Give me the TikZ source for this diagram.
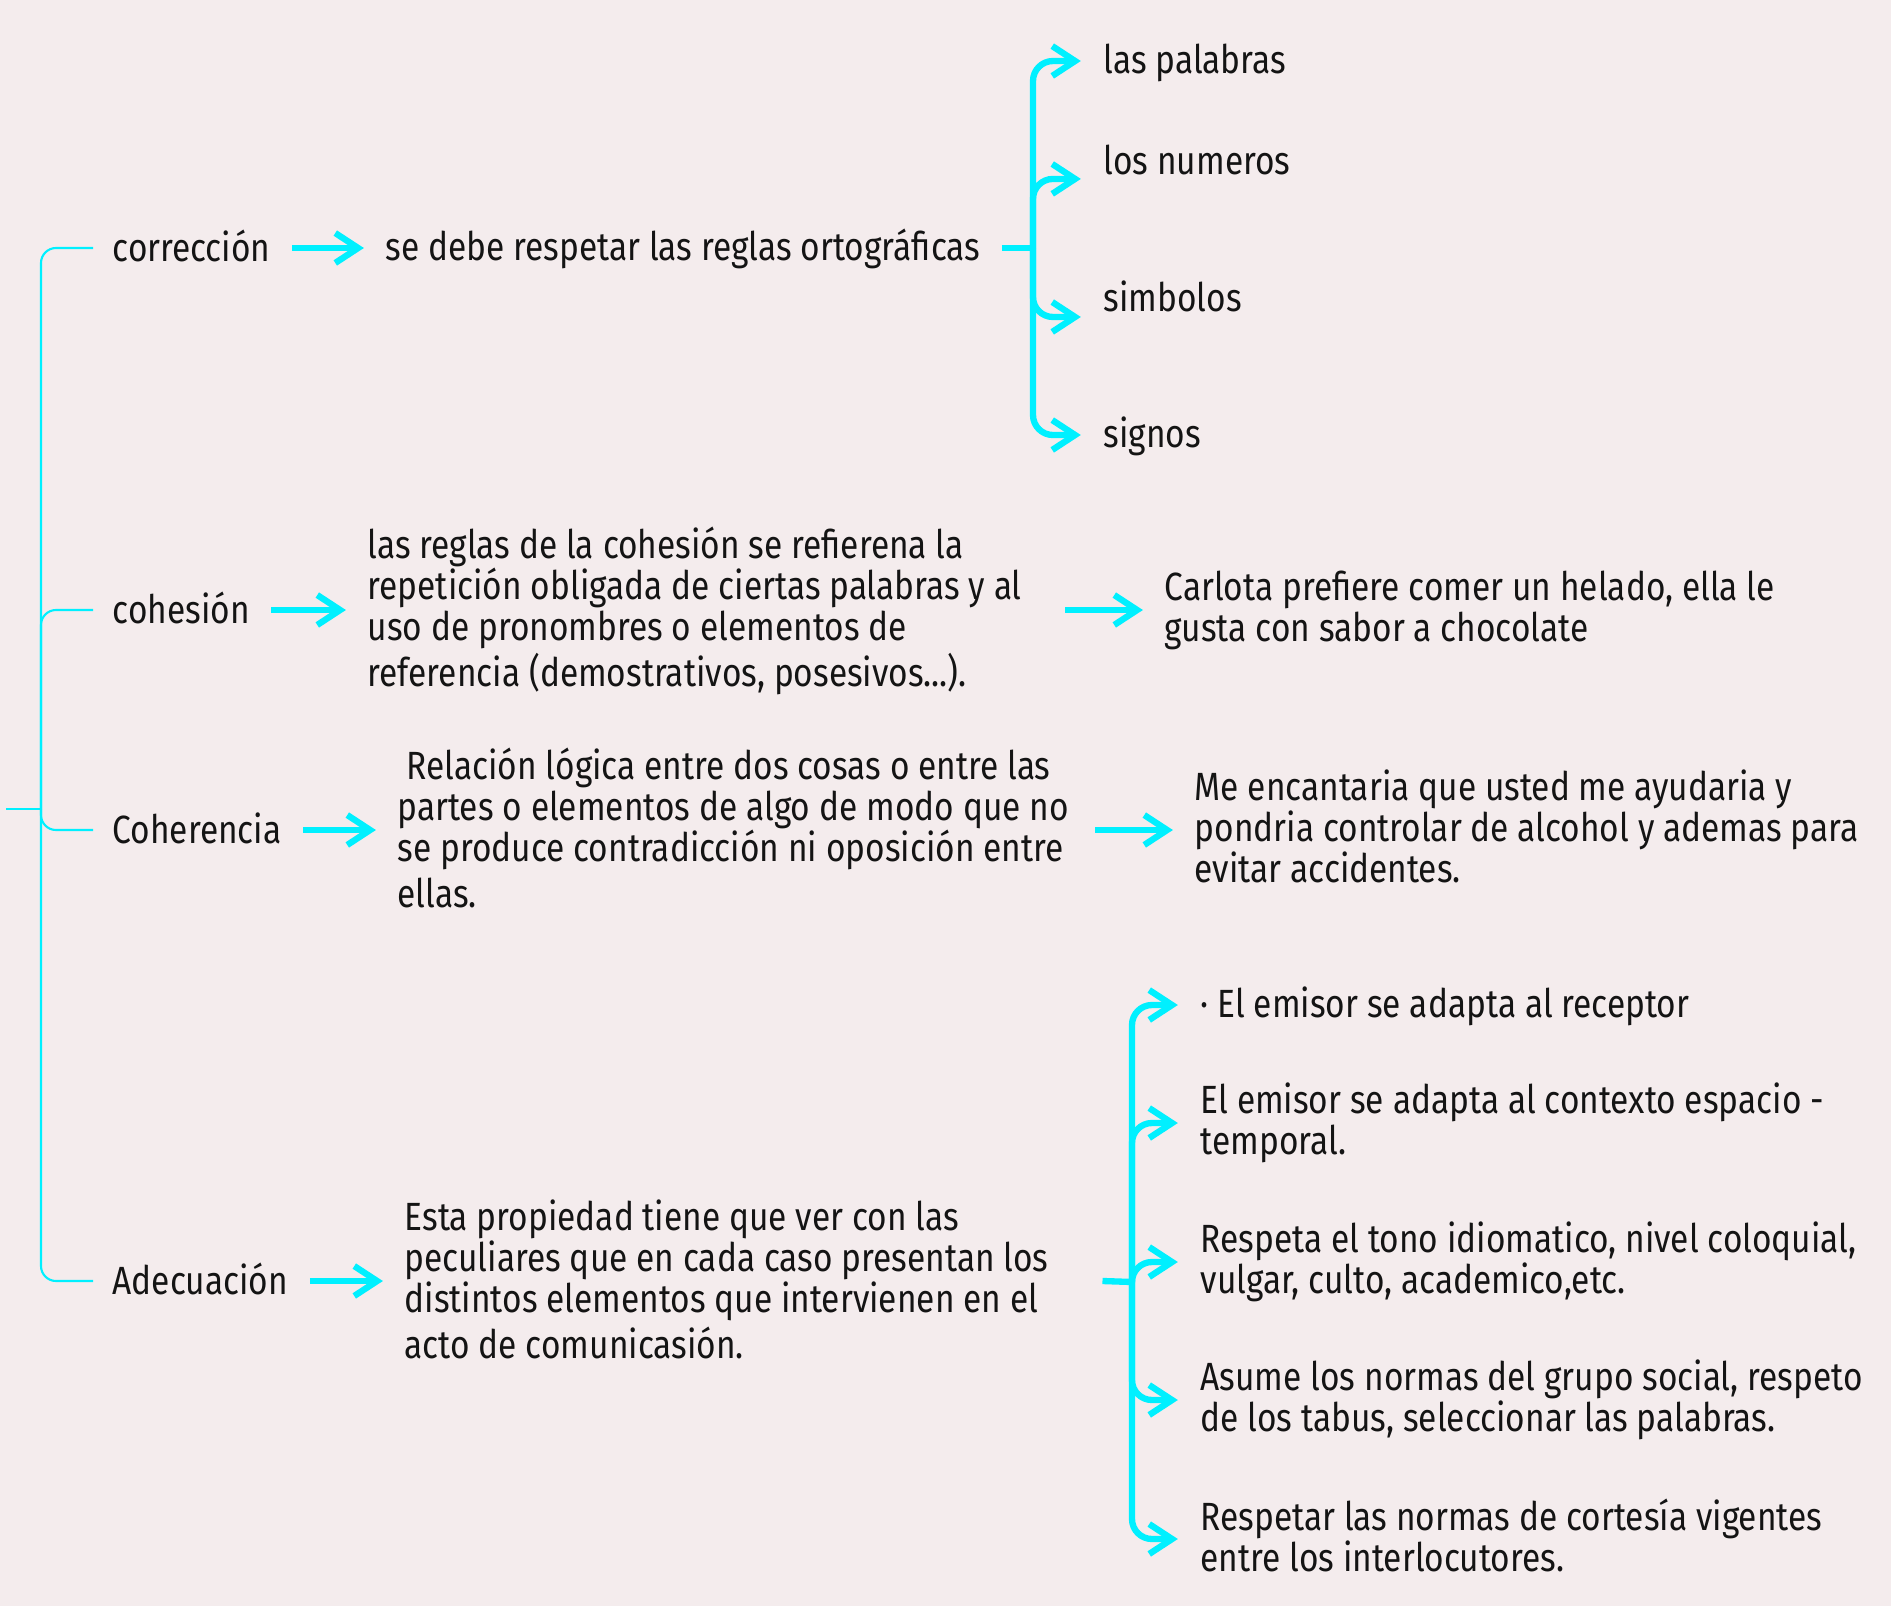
\documentclass[tikz,border=0pt]{standalone}
\usepackage{fontspec}
\setmainfont{Fira Sans}[FakeStretch=0.85]
\usetikzlibrary{arrows.meta,calc}
\definecolor{bgpink}{RGB}{244,236,237}
\definecolor{aqua}{RGB}{0,240,255}
\definecolor{ink}{RGB}{20,20,20}
\newcommand{\ls}{\rule[-2.1pt]{0pt}{11.7pt}}
\tikzset{
  txt/.style={font=\fontsize{11.2}{11.7}\selectfont, text=ink, inner sep=0pt, anchor=west,
    execute at begin node=\ls, execute at end node=\ls},
  block/.style={txt, align=flush left, text width=67.6mm},
  brace/.style={draw=aqua, line width=0.6pt, rounded corners=1.5mm},
  tree/.style={draw=aqua, line width=1.8pt},
  arr/.style={tree, -{Straight Barb[length=6.5pt,width=8.5pt]}, shorten <=6pt, shorten >=6pt},
  treearr/.style={tree, rounded corners=2mm, -{Straight Barb[length=6.5pt,width=8.5pt]}, shorten >=6.3pt}
}
\begin{document}
\begin{tikzpicture}[x=0.1mm, y=-0.1mm]
  \fill[bgpink] (0,0) rectangle (1891,1606);
  \useasboundingbox (0,0) rectangle (1891,1606);

  % main labels
  \node[txt] (corr) at (112,248) {corrección};
  \node[txt] (cohe) at (112,610) {cohesión};
  \node[txt] (coher) at (112,830) {Coherencia};
  \node[txt] (adec) at (112,1281) {Adecuación};

  % corrección
  \node[txt] (corrRule) at (385,248) {se debe respetar las reglas ortográficas};
  \node[txt] (palabras) at (1103,61) {las palabras};
  \node[txt] (numeros) at (1103,161) {los numeros};
  \node[txt] (simbolos) at (1103,298) {simbolos};
  \node[txt] (signos) at (1103,435) {signos};

  % cohesión
  \node[block] (coheRule) at (367,610) {las reglas de la cohesión se refierena la\\
    repetición obligada de ciertas palabras y al\\
    uso de pronombres o elementos de\\
    referencia (demostrativos, posesivos...).};
  \node[txt, align=left] (coheEx) at (1164,610) {Carlota prefiere comer un helado, ella le\\
    gusta con sabor a chocolate};

  % Coherencia
  \node[block] (coherDef) at (397,830) {\ Relación lógica entre dos cosas o entre las\\
    partes o elementos de algo de modo que no\\
    se produce contradicción ni oposición entre\\
    ellas.};
  \node[txt, align=left] (coherEx) at (1194,830) {Me encantaria que usted me ayudaria y\\
    pondria controlar de alcohol y ademas para\\
    evitar accidentes.};

  % Adecuación
  \node[block] (adecDef) at (404,1281) {Esta propiedad tiene que ver con las\\
    peculiares que en cada caso presentan los\\
    distintos elementos que intervienen en el\\
    acto de comunicasión.};
  \node[txt] (adecA) at (1200,1005) {· El emisor se adapta al receptor};
  \node[txt, align=left] (adecB) at (1200,1123) {El emisor se adapta al contexto espacio -\\
    temporal.};
  \node[txt, align=left] (adecC) at (1200,1262) {Respeta el tono idiomatico, nivel coloquial,\\
    vulgar, culto, academico,etc.};
  \node[txt, align=left] (adecD) at (1200,1400) {Asume los normas del grupo social, respeto\\
    de los tabus, seleccionar las palabras.};
  \node[txt, align=left] (adecE) at (1200,1539) {Respetar las normas de cortesía vigentes\\
    entre los interlocutores.};

  % left bracket
  \coordinate (root) at (6,809);
  \coordinate (spine) at (41,809);
  \draw[brace] (root) -- (spine);
  \foreach \n in {corr,cohe,coher,adec}
    \draw[brace, shorten >=5.4pt] (spine) |- (\n.west);

  % arrows
  \draw[arr] (corr.east) -- (corrRule.west);
  \draw[arr] (cohe.east) -- (coheRule.west);
  \draw[arr] (coheRule.east) -- (coheEx.west);
  \draw[arr] (coher.east) -- (coherDef.west);
  \draw[arr] (coherDef.east) -- (coherEx.west);
  \draw[arr] (adec.east) -- (adecDef.west);

  % forks
  \coordinate (corrFork) at (1033,248);
  \draw[tree] ([xshift=6pt]corrRule.east) -- (corrFork);
  \draw[treearr] (corrFork) |- (palabras.west);
  \draw[treearr] (corrFork) |- ([yshift=-5.1pt]numeros.west);
  \draw[treearr] (corrFork) |- ([yshift=-5.4pt]simbolos.west);
  \draw[treearr] (corrFork) |- (signos.west);

  \coordinate (adecFork) at (1132,1282);
  \draw[tree] ([xshift=6pt]adecDef.east) -- (adecFork);
  \foreach \n in {adecA,adecB,adecC,adecD,adecE}
    \draw[treearr] (adecFork) |- (\n.west);
\end{tikzpicture}
\end{document}
